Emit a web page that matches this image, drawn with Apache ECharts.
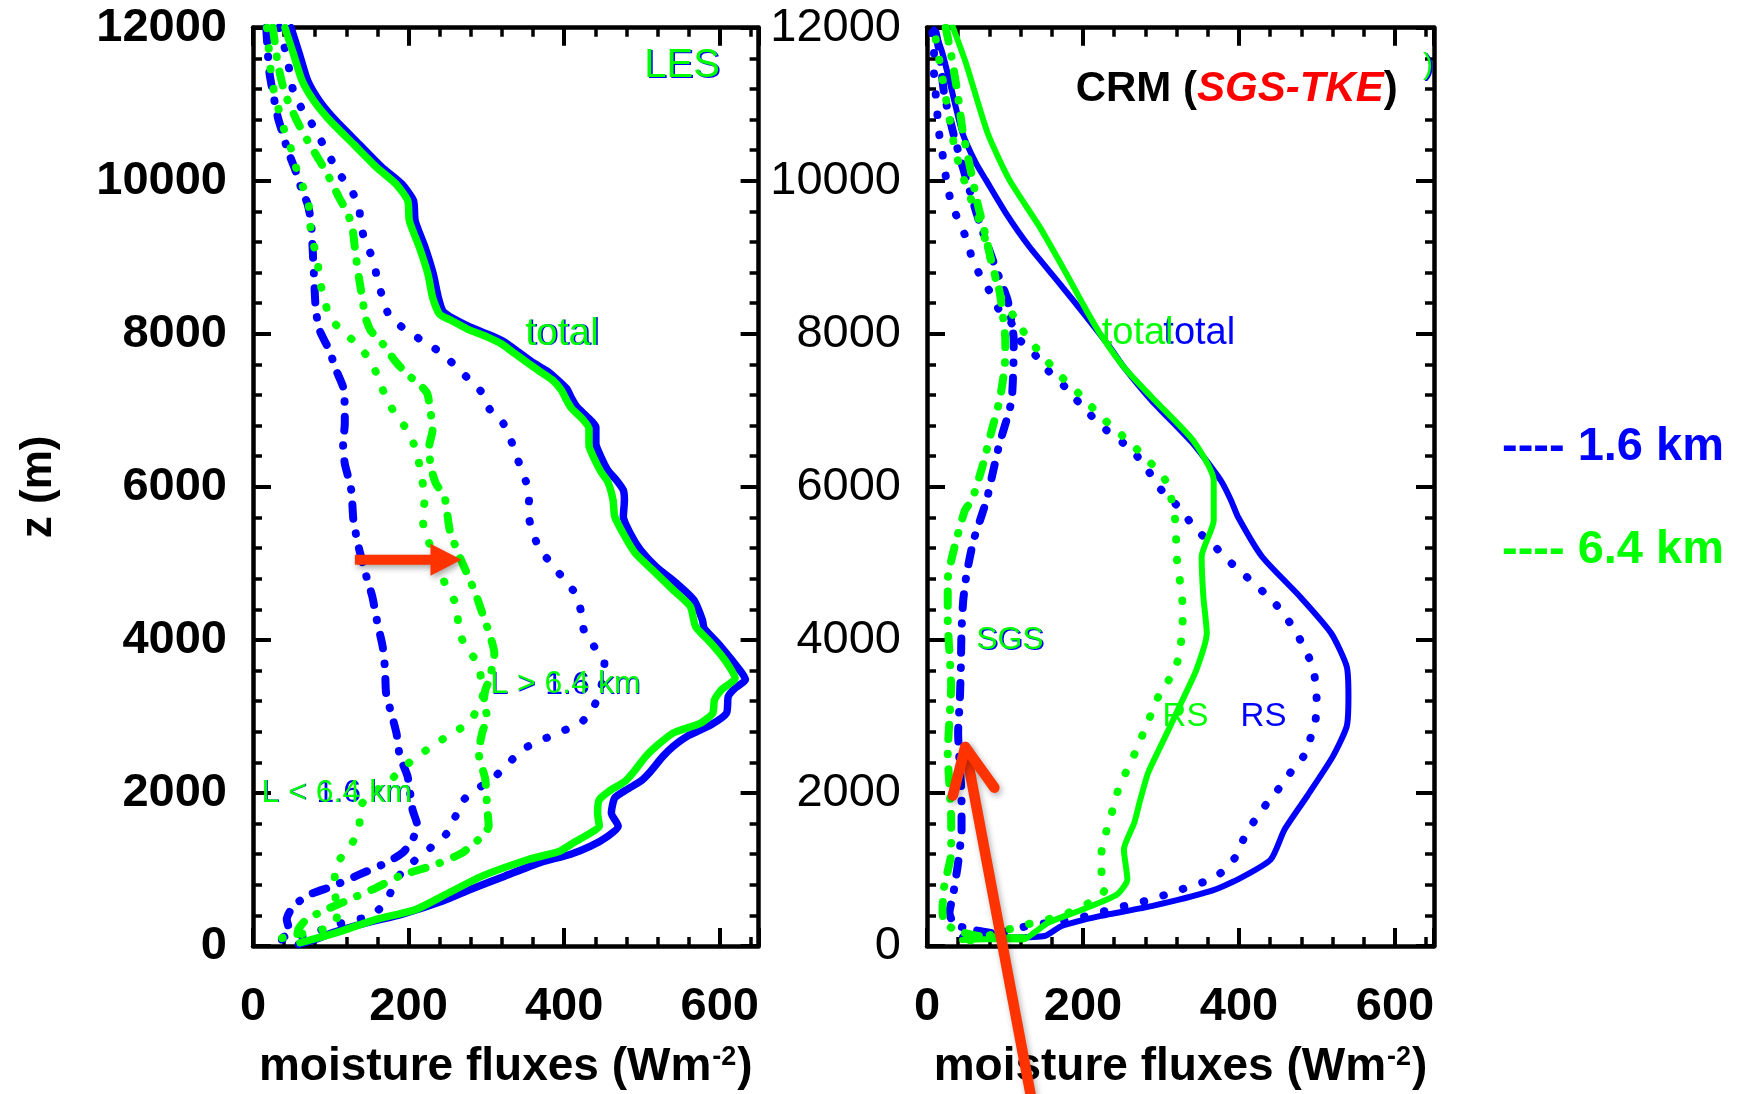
<!DOCTYPE html>
<html>
<head>
<meta charset="utf-8">
<title>Moisture flux profiles</title>
<script src="https://cdn.jsdelivr.net/npm/echarts@6/dist/echarts.min.js"></script>
<style>
  html, body { margin: 0; padding: 0; background: #fff; }
  #chart { width: 1739px; height: 1094px; }
</style>
</head>
<body>
<div id="chart"></div>
<script>
// Vertical profiles of moisture flux: LES (left) and CRM with SGS-TKE closure (right).
// Each profile is a list of [flux (W m-2), height (m)] pairs.

const fluxTickLabels = [0, 200, 400, 600];
const heightTickLabels = [0, 2000, 4000, 6000, 8000, 10000, 12000];
const runs = ['1.6 km', '6.4 km'];

// ---- LES panel ----
const lesTotal16 = [[48.9,12000],[59.6,11659],[70.2,11310],[85.1,11048],[106.4,10786],[136.2,10480],[166,10174],[191.5,9956],[206.4,9738],[208.5,9476],[221.3,9126],[231.9,8777],[238.3,8471],[244,8300],[258,8196],[279.4,8087],[305.9,7978],[323.6,7891],[341.3,7761],[359,7630],[376.7,7522],[389.9,7413],[403.2,7283],[409.8,7152],[416.4,7043],[429.7,6913],[440.8,6783],[440.8,6565],[447.4,6391],[456.2,6217],[467.3,6087],[476.1,5957],[477.5,5826],[476.1,5609],[485,5391],[498.2,5174],[518.1,4957],[544.6,4739],[566.8,4522],[577.8,4261],[580,4152],[597.7,3957],[615.4,3739],[628.6,3565],[633.1,3478],[619.8,3370],[611,3261],[608.8,3043],[588.9,2891],[557.9,2739],[540.2,2609],[527,2478],[509.3,2261],[498.2,2152],[480.5,2043],[465.1,1935],[460.7,1739],[469.5,1565],[456.2,1435],[434.1,1304],[407.6,1196],[367.8,1087],[323.6,913],[279.4,739],[244,587],[191,413],[146.8,304],[102.6,174],[80.5,87],[58.4,22]];
const lesTotal64 = [[41,12000],[52,11659],[63,11310],[78,11048],[99,10786],[129,10480],[159,10174],[184,9956],[199,9738],[201,9476],[214,9126],[225,8777],[231,8471],[240,8253],[255.1,8174],[275,8065],[301.5,7957],[319.2,7870],[336.9,7739],[354.6,7609],[370,7500],[385.5,7391],[396.6,7261],[403.2,7130],[409.8,7022],[423.1,6891],[431.9,6761],[431.9,6543],[438.6,6370],[447.4,6196],[456.2,6065],[462.9,5826],[465.1,5609],[478.3,5348],[491.6,5130],[513.7,4913],[540.2,4652],[562.3,4435],[569,4174],[588.9,3957],[606.5,3739],[619.8,3500],[602.1,3348],[593.3,3217],[591.1,3043],[575.6,2913],[540.2,2783],[518.1,2609],[504.9,2478],[491.6,2304],[478.3,2152],[460.7,2043],[445.2,1913],[443,1739],[445.2,1565],[434.1,1478],[412,1348],[394.3,1239],[354,1130],[294.5,913],[251.9,696],[209.4,478],[158.3,348],[107.2,174],[60.4,43]];
const lesLarge16 = [[34,12000],[36.2,11921],[42.6,11659],[46.8,11441],[51.1,11201],[61.7,10961],[74.5,10764],[86.4,10546],[97.9,10327],[110.6,10096],[125.5,9891],[136.2,9672],[138.3,9432],[144.7,9192],[155.3,8952],[159.6,8712],[166.8,8472],[175.3,8231],[194.5,8065],[215.7,7922],[237.4,7783],[257.3,7609],[275.9,7422],[292.7,7252],[304.6,7009],[321.4,6835],[331.6,6609],[340.4,6357],[347.9,6152],[355.4,5913],[353.7,5652],[359,5435],[367.8,5196],[383.3,5000],[398.8,4804],[414.2,4609],[421.8,4370],[425.3,4130],[438.6,3913],[451.8,3696],[449.6,3478],[445.2,3304],[436.3,3087],[420.9,2913],[396.6,2804],[372.2,2696],[349.8,2587],[328.5,2391],[311.5,2217],[290.2,2065],[271.1,1913],[260.4,1696],[249.8,1478],[230.6,1304],[194.5,1000],[181.7,826],[171.1,565],[149.8,391],[124.3,326],[100.9,261],[73.2,152],[39.1,87],[22.1,65]];
const lesSmall16 = [[17,12000],[19.1,11659],[21.3,11397],[25.5,11157],[31.9,10830],[38.3,10611],[44.7,10393],[53.2,10174],[61.7,9912],[70.2,9694],[74.5,9476],[76.6,9126],[78.7,8690],[80.9,8297],[85.8,8043],[98.1,7783],[107,7522],[115.8,7304],[118,7043],[118,6826],[115.8,6565],[118,6304],[124.7,6043],[126.9,5913],[129.1,5565],[135.7,5217],[144.6,4870],[153.4,4565],[160,4217],[166.7,3913],[169.8,3609],[171.1,3304],[177.7,3043],[184.4,2783],[188.8,2478],[198.7,2217],[205.1,1782],[211.5,1565],[205.1,1391],[192.3,1217],[171.1,1087],[137,935],[103,783],[73.2,674],[51.9,522],[43.4,348],[47.7,174],[22.1,52]];
const lesLarge64 = [[18,12000],[23.4,11375],[27.7,11135],[34,10895],[40.4,10655],[48.9,10415],[55.3,10174],[63.8,9934],[71.5,9694],[73.2,9454],[76.6,9214],[83,8974],[85.1,8712],[91.5,8472],[97.9,8231],[113.6,8043],[133.5,7870],[149,7674],[160,7457],[168.9,7217],[181.3,6978],[195.4,6783],[206.5,6565],[213.1,6326],[217.5,6087],[221,5848],[217.5,5609],[221.9,5391],[235.2,5043],[248.5,4696],[261.7,4457],[263.9,4217],[270.6,3957],[286,3739],[292,3565],[296,3304],[290,3130],[277.4,2913],[256.2,2782],[232.8,2630],[211.5,2478],[192.3,2326],[175.3,2152],[154,2000],[137,1804],[137,1565],[126.4,1326],[111.5,1130],[105.1,913],[105.1,696],[109.4,478],[103,261],[39.1,108],[13.6,43]];
const lesSmall64 = [[25.5,12000],[27.7,11834],[31.9,11528],[38.3,11244],[44.7,11048],[57.4,10764],[70.2,10524],[83,10306],[95.7,10087],[110.6,9781],[121.3,9585],[127.7,9389],[131.9,9039],[136.2,8733],[140.4,8472],[144.7,8210],[151.2,8043],[166.7,7870],[182.1,7652],[197.6,7478],[215.3,7326],[224.1,7217],[228.6,6957],[230.8,6739],[226.4,6522],[228.6,6261],[235.2,6043],[246.2,5870],[252.9,5435],[263.9,5130],[275,4870],[286,4609],[294.9,4348],[303.7,4087],[310.3,3826],[303.7,3478],[298.7,3348],[296.6,3174],[300.9,3000],[294.5,2782],[290.2,2522],[298.7,2174],[300.9,1826],[303,1565],[294.5,1435],[268.9,1217],[234.9,1065],[188.1,913],[158.3,761],[124.3,609],[94.5,478],[68.9,348],[58.3,217],[56.2,65]];

// ---- CRM (SGS-TKE) panel ----
const crmTotal16 = [[9,11978],[19.7,11672],[30.5,11235],[45.5,10623],[62.7,10230],[75.5,10011],[101.3,9574],[131.3,9137],[170,8657],[204.3,8220],[234.3,7826],[252.4,7565],[287.9,7130],[341,6565],[376.4,6087],[389.7,5826],[398.6,5609],[429.6,5087],[478.3,4565],[518.2,4087],[538.1,3652],[540.3,3261],[538.1,2870],[520.4,2478],[487.2,1957],[458.4,1522],[440.7,1130],[398.6,870],[363.2,717],[287.9,522],[221.4,391],[172.7,261],[150.6,130],[100,110],[50,100]];
const crmTotal64 = [[32.6,12022],[49.8,11541],[77.7,10623],[105.6,10011],[144.2,9400],[178.5,8788],[204.3,8307],[222,8000],[252.4,7565],[287.9,7174],[341,6609],[367.6,6087],[367.6,5565],[352.1,5087],[354.3,4565],[358.7,4087],[345.4,3609],[327.7,3217],[305.6,2739],[283.4,2261],[272.4,1870],[265.7,1609],[252.4,1261],[256.9,870],[243.6,674],[199.3,478],[155,304],[137.3,174],[124,87],[75,87],[45,80]];
const crmRes16 = [[6.9,11934],[9,11716],[9,11410],[11.2,11126],[15.5,10623],[19.7,10361],[26.2,9924],[32.6,9662],[43.3,9421],[51.9,9203],[58.4,8963],[69.1,8744],[82,8526],[92.7,8307],[106.3,8174],[119.6,7913],[137.3,7739],[155,7522],[177.1,7304],[203.7,7000],[230.3,6739],[252.4,6565],[270.2,6391],[283.4,6217],[296.7,6000],[314.4,5826],[332.2,5609],[345.4,5435],[367.6,5239],[383.1,5065],[403,4891],[420.7,4717],[440.7,4543],[456.2,4348],[471.7,4130],[482.7,3913],[493.8,3674],[498.2,3435],[499.6,3196],[498.2,2957],[491.6,2717],[482.7,2478],[467.2,2283],[451.7,2065],[436.2,1870],[420.7,1652],[407.4,1435],[398.6,1217],[385.3,1022],[363.2,870],[339,783],[313.3,696],[287.6,609],[261.8,544],[236,478],[212.4,413],[186.7,348],[160.9,304],[133,274],[105.2,196],[75.1,152],[27.9,87]];
const crmSgs16 = [[11.2,11934],[16.3,11672],[21.9,11148],[34.8,10579],[51.9,9968],[67,9465],[79.8,9094],[90.6,8788],[103.4,8438],[111.2,7913],[110.7,7565],[108.5,7130],[101.9,6870],[93,6565],[84.1,6174],[77.5,5870],[70.9,5652],[59.8,5304],[50.9,4870],[46.5,4522],[44.3,4130],[43.4,3652],[42.1,3217],[39.9,2783],[42.1,2348],[44.3,1957],[44.3,1522],[39.9,1087],[33.2,652],[28.8,435],[35.4,283],[66.4,196],[93,152]];
const crmRes64 = [[11.2,11847],[19.7,11344],[28.3,10842],[36.9,10361],[51.9,9880],[69.1,9421],[82,8963],[94.8,8482],[110.7,8239],[128.4,7957],[146.1,7739],[168.3,7478],[194.9,7217],[225.9,6891],[256.9,6609],[283.4,6348],[305.6,6087],[316.7,5696],[318.9,5435],[321.1,4957],[325.5,4696],[327.7,4435],[327.7,4217],[325.5,3957],[321.1,3717],[310,3478],[296.7,3261],[287.9,3043],[279,2826],[270.2,2609],[259.1,2348],[248,2130],[241.4,1913],[234.7,1652],[228,1435],[223.7,1217],[223.7,957],[228,739],[208.1,565],[181.5,435],[155,348],[128.4,283],[97.4,196],[70.9,109],[40,43]];
const crmSgs64 = [[24,12000],[30.5,11672],[39.1,11148],[45.5,10667],[54.1,10230],[64.8,9705],[75.5,9268],[84.1,8875],[92.7,8569],[97,8263],[100.4,7913],[99.6,7565],[93,7130],[81.9,6696],[70.9,6261],[57.6,5826],[48.7,5696],[35.4,5217],[26.6,4783],[26.6,4261],[28.8,3826],[31,3391],[28.8,2957],[26.6,2522],[28.8,2087],[31,1652],[31,1217],[22.1,783],[19.9,478],[22.1,304],[39.9,196],[66.4,130],[100,105],[130,100]];

// Annotation anchors in data space: [flux, height]
const arrowLes = [[131, 5046], [268, 5046]];     // tail, tip
const arrowCrm = [[133, -1950], [49, 2600]];     // tail, tip

const FLUX_MAX = 650;
const Z_MAX = 12000;
const FONT = "'Liberation Sans', Arial, Helvetica, sans-serif";
const BLUE = '#0000ff';
const GREEN = '#00ff00';
const RED = '#ff3300';
const DASH = { dotted: [0.5, 20], dashdot: [14, 15, 0.5, 15] };

const chart = echarts.init(document.getElementById('chart'), null, { renderer: 'canvas' });

function fluxName() {
  return {
    name: '{t|moisture fluxes (Wm}{s|-2}{t|)}',
    nameLocation: 'middle',
    nameGap: 98,
    nameTextStyle: {
      fontSize: 46, fontWeight: 'bold', fontFamily: FONT, color: '#000',
      rich: {
        t: { fontSize: 46, fontWeight: 'bold', fontFamily: FONT, color: '#000' },
        s: { fontSize: 27, fontWeight: 'bold', fontFamily: FONT, color: '#000', verticalAlign: 'top', padding: [0, 1, 0, 1] }
      }
    }
  };
}

function fluxAxes(grid) {
  const base = {
    gridIndex: grid, type: 'value', min: 0, max: FLUX_MAX, splitLine: { show: false },
    axisLine: { show: true, onZero: false, lineStyle: { color: '#000', width: 4.5 } }
  };
  const major = { inside: true, length: 18, lineStyle: { color: '#000', width: 4 } };
  const minor = { inside: true, length: 9, lineStyle: { color: '#000', width: 3.5 } };
  return [
    Object.assign({}, base, fluxName(), {
      position: 'bottom', interval: 200, axisTick: major,
      axisLabel: {
        margin: 38, fontSize: 47, fontWeight: 'bold', color: '#000', fontFamily: FONT,
        formatter: v => (fluxTickLabels.indexOf(v) >= 0 ? String(v) : '')
      }
    }),
    Object.assign({}, base, { position: 'bottom', interval: 40, axisLine: { show: false, onZero: false }, axisTick: minor, axisLabel: { show: false } }),
    Object.assign({}, base, { position: 'top', interval: 200, axisTick: major, axisLabel: { show: false } }),
    Object.assign({}, base, { position: 'top', interval: 40, axisLine: { show: false, onZero: false }, axisTick: minor, axisLabel: { show: false } })
  ];
}

function heightAxes(grid, weight, withName) {
  const base = {
    gridIndex: grid, type: 'value', min: 0, max: Z_MAX, interval: 2000, splitLine: { show: false },
    axisLine: { show: true, onZero: false, lineStyle: { color: '#000', width: 4.5 } },
    axisTick: { inside: true, length: 18, lineStyle: { color: '#000', width: 4 } },
    minorTick: { show: true, splitNumber: 5, length: 9, lineStyle: { color: '#000', width: 3.5 } }
  };
  const left = Object.assign({}, base, {
    position: 'left',
    axisLabel: {
      margin: 26, fontSize: 47, fontWeight: weight, color: '#000', fontFamily: FONT,
      formatter: v => (heightTickLabels.indexOf(v) >= 0 ? String(v) : '')
    }
  });
  if (withName) {
    Object.assign(left, {
      name: 'z (m)', nameLocation: 'middle', nameGap: 192,
      nameTextStyle: { fontSize: 44, fontWeight: 'bold', fontFamily: FONT, color: '#000' }
    });
  }
  return [left, Object.assign({}, base, { position: 'right', axisLabel: { show: false } })];
}

function profile(name, data, grid, color, style, width) {
  return {
    name, type: 'line', data,
    xAxisIndex: grid * 4, yAxisIndex: grid * 2,
    showSymbol: false, symbol: 'none', smooth: 0.2, silent: true, clip: true,
    lineStyle: {
      color, width,
      type: style === 'solid' ? 'solid' : DASH[style],
      cap: 'round', join: 'round'
    },
    z: color === GREEN ? 3 : 2
  };
}

const option = {
  animation: false,
  backgroundColor: '#fff',
  grid: [
    { left: 253, top: 27.7, width: 505.6, height: 918.3, outerBoundsMode: 'none' },
    { left: 927, top: 27.7, width: 507, height: 918.3, outerBoundsMode: 'none' }
  ],
  xAxis: [].concat(fluxAxes(0), fluxAxes(1)),
  yAxis: [].concat(heightAxes(0, 'bold', true), heightAxes(1, 'normal', false)),
  series: [
    profile('LES total ' + runs[0], lesTotal16, 0, BLUE, 'solid', 7.5),
    profile('LES L > 6.4 km ' + runs[0], lesLarge16, 0, BLUE, 'dotted', 8),
    profile('LES L < 6.4 km ' + runs[0], lesSmall16, 0, BLUE, 'dashdot', 8),
    profile('LES total ' + runs[1], lesTotal64, 0, GREEN, 'solid', 7.5),
    profile('LES L > 6.4 km ' + runs[1], lesLarge64, 0, GREEN, 'dotted', 8),
    profile('LES L < 6.4 km ' + runs[1], lesSmall64, 0, GREEN, 'dashdot', 8),
    profile('CRM total ' + runs[0], crmTotal16, 1, BLUE, 'solid', 6),
    profile('CRM RS ' + runs[0], crmRes16, 1, BLUE, 'dotted', 8),
    profile('CRM SGS ' + runs[0], crmSgs16, 1, BLUE, 'dashdot', 8),
    profile('CRM total ' + runs[1], crmTotal64, 1, GREEN, 'solid', 6),
    profile('CRM RS ' + runs[1], crmRes64, 1, GREEN, 'dotted', 8),
    profile('CRM SGS ' + runs[1], crmSgs64, 1, GREEN, 'dashdot', 8)
  ]
};

chart.setOption(option);

// ---- annotations placed from data coordinates ----
const toPx = (grid, p) => chart.convertToPixel({ xAxisIndex: grid * 4, yAxisIndex: grid * 2 }, p);

function label(grid, at, text, color, size, opts) {
  const p = toPx(grid, at);
  const o = opts || {};
  return {
    type: 'text', x: p[0] + (o.dx || 0), y: p[1] + (o.dy || 0), z: o.z || 200, silent: true,
    style: {
      text, fill: color, font: (o.weight || 'normal') + ' ' + size + 'px ' + FONT,
      align: o.align || 'left', textAlign: o.align || 'left',
      verticalAlign: 'middle', textVerticalAlign: 'middle'
    }
  };
}

// green text laid over a blue copy offset by a pixel or so
function pairLabel(grid, at, blueText, greenText, size, shift) {
  const d = shift === undefined ? 1.5 : shift;
  return [
    label(grid, at, blueText, BLUE, size, { dx: d, dy: d * 0.6, z: 200 }),
    label(grid, at, greenText, GREEN, size, { z: 201 })
  ];
}

function blockArrow(tail, tip, shaftW, headL, headW) {
  const dx = tip[0] - tail[0], dy = tip[1] - tail[1], len = Math.hypot(dx, dy);
  const ux = dx / len, uy = dy / len, nx = -uy, ny = ux;
  const bx = tip[0] - ux * headL, by = tip[1] - uy * headL;
  const pts = [
    [tail[0] + nx * shaftW / 2, tail[1] + ny * shaftW / 2],
    [bx + nx * shaftW / 2, by + ny * shaftW / 2],
    [bx + nx * headW / 2, by + ny * headW / 2],
    [tip[0], tip[1]],
    [bx - nx * headW / 2, by - ny * headW / 2],
    [bx - nx * shaftW / 2, by - ny * shaftW / 2],
    [tail[0] - nx * shaftW / 2, tail[1] - ny * shaftW / 2]
  ];
  return {
    type: 'polygon', z: 300, silent: true, shape: { points: pts },
    style: { fill: RED, shadowBlur: 6, shadowColor: 'rgba(0,0,0,0.35)', shadowOffsetX: 2, shadowOffsetY: 3 }
  };
}

function lineArrow(tail, tip, width, wingL, wingAng) {
  const a = Math.atan2(tail[1] - tip[1], tail[0] - tip[0]);
  const w1 = [tip[0] + wingL * Math.cos(a + wingAng), tip[1] + wingL * Math.sin(a + wingAng)];
  const w2 = [tip[0] + wingL * Math.cos(a - wingAng), tip[1] + wingL * Math.sin(a - wingAng)];
  const st = {
    stroke: RED, lineWidth: width, lineCap: 'round', lineJoin: 'round', fill: null,
    shadowBlur: 6, shadowColor: 'rgba(0,0,0,0.3)', shadowOffsetX: 2, shadowOffsetY: 3
  };
  return [
    { type: 'line', z: 300, silent: true, shape: { x1: tail[0], y1: tail[1], x2: tip[0], y2: tip[1] }, style: st },
    { type: 'polyline', z: 300, silent: true, shape: { points: [w1, [tip[0], tip[1]], w2] }, style: st }
  ];
}

const crmTitle = (() => {
  const p = toPx(1, [397, 11190]);
  return {
    type: 'text', x: p[0], y: p[1], z: 200, silent: true,
    style: {
      text: '{b|CRM (}{r|SGS-TKE}{b|)}',
      align: 'center', textAlign: 'center', verticalAlign: 'middle', textVerticalAlign: 'middle',
      font: 'bold 42px ' + FONT,
      rich: {
        b: { fill: '#000', font: 'bold 42px ' + FONT },
        r: { fill: '#ff0000', font: 'italic bold 42px ' + FONT }
      }
    }
  };
})();

const legendX = 1502;
const graphic = [].concat(
  pairLabel(0, [503, 11500], 'LES', 'LES', 40),
  pairLabel(0, [350, 8000], 'total', 'total', 39),
  pairLabel(0, [305, 3420], 'L > 1.6 km', 'L > 6.4 km', 32, 0.8),
  pairLabel(0, [11, 2000], 'L < 1.6 km', 'L < 6.4 km', 32, 0.8),
  [crmTitle],
  pairLabel(1, [636, 11500], ')', ')', 30),
  [label(1, [303, 8000], 'total', BLUE, 38)],
  [label(1, [224, 8000], 'total', GREEN, 38, { z: 201 })],
  pairLabel(1, [63, 4000], 'SGS', 'SGS', 32),
  [label(1, [302, 3000], 'RS', GREEN, 33)],
  [label(1, [402, 3000], 'RS', BLUE, 33)],
  [
    { type: 'text', x: legendX, y: 447, z: 200, silent: true,
      style: { text: '---- ' + runs[0], fill: BLUE, font: 'bold 47px ' + FONT, align: 'left', textAlign: 'left', verticalAlign: 'middle', textVerticalAlign: 'middle' } },
    { type: 'text', x: legendX, y: 550, z: 200, silent: true,
      style: { text: '---- ' + runs[1], fill: GREEN, font: 'bold 47px ' + FONT, align: 'left', textAlign: 'left', verticalAlign: 'middle', textVerticalAlign: 'middle' } }
  ],
  [blockArrow(toPx(0, arrowLes[0]), toPx(0, arrowLes[1]), 10, 31, 32)],
  lineArrow(toPx(1, arrowCrm[0]), toPx(1, arrowCrm[1]), 10.5, 50, 25 * Math.PI / 180)
);

chart.setOption({ graphic });
</script>
</body>
</html>
